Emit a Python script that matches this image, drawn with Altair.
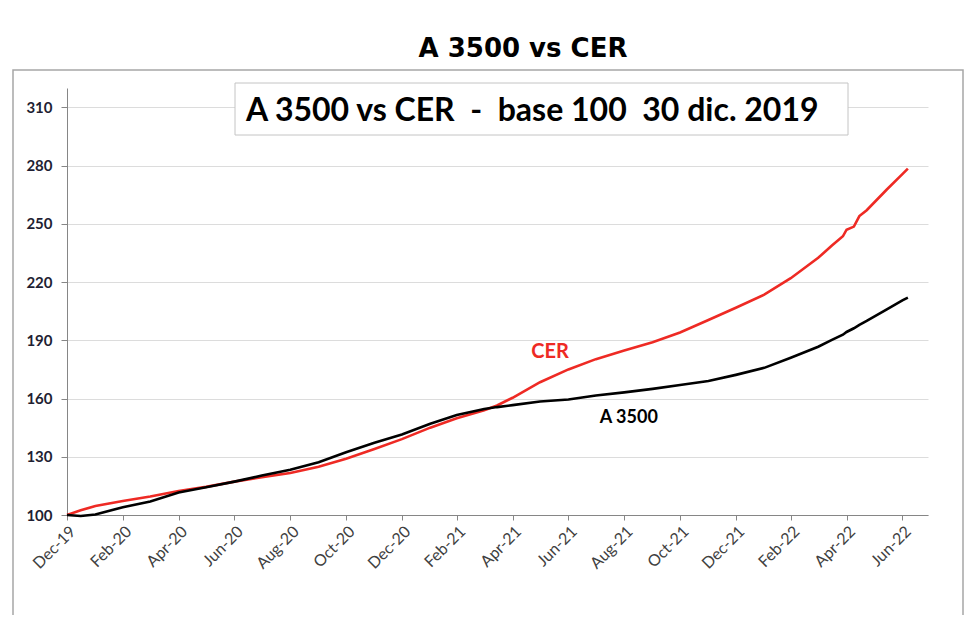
import altair as alt
import pandas as pd

# ---- data ----
dates = [
    "2019-12-30", "2020-01-14", "2020-01-30", "2020-02-29", "2020-03-30",
    "2020-04-30", "2020-05-30", "2020-06-30", "2020-07-30", "2020-08-30",
    "2020-09-30", "2020-10-30", "2020-11-30", "2020-12-30", "2021-01-30",
    "2021-02-28", "2021-03-30", "2021-04-13", "2021-04-30", "2021-05-30",
    "2021-06-30", "2021-07-30", "2021-08-30", "2021-09-30", "2021-10-30",
    "2021-11-30", "2021-12-30", "2022-01-30", "2022-02-28", "2022-03-30",
    "2022-04-14", "2022-04-26", "2022-04-30", "2022-05-08", "2022-05-14",
    "2022-05-22", "2022-06-13", "2022-06-30", "2022-07-06",
]
cer = [
    100.0, 102.4, 104.6, 107.2, 109.5,
    112.4, 114.5, 117.2, 119.5, 121.6,
    124.8, 129.0, 134.0, 139.1, 145.0,
    149.8, 154.0, 156.4, 160.4, 168.4,
    175.0, 180.3, 184.8, 189.0, 194.0,
    200.5, 206.8, 213.5, 222.0, 232.5,
    238.8, 243.6, 247.0, 248.6, 254.0,
    257.0, 267.7, 275.6, 278.5,
]
a3500 = [
    100.0, 99.5, 100.3, 104.0, 107.0,
    111.6, 114.3, 117.2, 120.3, 123.3,
    127.2, 132.3, 137.2, 141.5, 147.0,
    151.5, 154.6, 155.6, 156.6, 158.5,
    159.5, 161.6, 163.2, 165.0, 167.0,
    169.0, 172.2, 175.8, 181.0, 186.7,
    190.2, 192.9, 194.3, 196.2, 198.0,
    200.0, 206.0, 210.6, 212.0,
]
series_names = ["CER", "A 3500"]
series_colors = ["#EE2A24", "#000000"]

x_tick_dates = [
    "2019-12-30", "2020-02-29", "2020-04-30", "2020-06-30", "2020-08-30",
    "2020-10-30", "2020-12-30", "2021-02-28", "2021-04-30", "2021-06-30",
    "2021-08-30", "2021-10-30", "2021-12-30", "2022-02-28", "2022-04-30",
    "2022-06-30",
]
x_domain = ["2019-12-30", "2022-07-28"]
y_ticks = [100, 130, 160, 190, 220, 250, 280, 310]
y_domain = [100, 320]

title_text = "A 3500 vs CER"
box_text = "A 3500 vs CER\u00a0\u00a0-\u00a0\u00a0base 100\u00a0\u00a030 dic. 2019"
label_points = {
    "date": ["2021-06-10", "2021-09-04"],
    "value": [184.0, 150.0],
    "label": ["CER", "A 3500"],
}

FONT = "Lato"


def dt(s):
    return alt.DateTime(year=int(s[:4]), month=int(s[5:7]), date=int(s[8:10]), utc=True)


n = len(dates)
df = pd.DataFrame({
    "date": dates * 2,
    "value": cer + a3500,
    "serie": [series_names[0]] * n + [series_names[1]] * n,
})

x_enc = alt.X(
    "date:T",
    title=None,
    scale=alt.Scale(type="utc", domain=[dt(x_domain[0]), dt(x_domain[1])]),
    axis=alt.Axis(
        values=[dt(s) for s in x_tick_dates],
        labelExpr="utcFormat(datum.value, '%b-%y')",
        labelAngle=-45,
        labelFontSize=16,
        labelFont=FONT,
        labelColor="#404040",
        labelPadding=3,
        grid=False,
        tickSize=5,
        tickColor="#868686",
        domainColor="#868686",
        labelOverlap=False,
    ),
)
y_enc = alt.Y(
    "value:Q",
    title=None,
    scale=alt.Scale(domain=y_domain, nice=False, zero=False),
    axis=alt.Axis(
        values=y_ticks,
        labelFontSize=15,
        labelFont=FONT,
        labelFontWeight="bold",
        labelColor="#1F1F33",
        labelPadding=9,
        tickSize=6,
        tickColor="#868686",
        domainColor="#868686",
        grid=True,
        gridColor="#DCDCDC",
        gridWidth=1,
    ),
)

base = alt.Chart(df)
red_line = base.transform_filter(alt.datum.serie == series_names[0]).mark_line(
    strokeWidth=2.6, color=series_colors[0]
).encode(x=x_enc, y=y_enc)
black_line = base.transform_filter(alt.datum.serie == series_names[1]).mark_line(
    strokeWidth=2.6, color=series_colors[1]
).encode(x=x_enc, y=y_enc)

dummy = pd.DataFrame({"k": [0]})

frame = alt.Chart(dummy).mark_rect(
    fill="transparent", stroke="#A6A6A6", strokeWidth=1.5
).encode(x=alt.value(-54), x2=alt.value(896), y=alt.value(-18), y2=alt.value(532))

box = alt.Chart(dummy).mark_rect(
    fill="white", stroke="#C4C4C4", strokeWidth=1
).encode(x=alt.value(168), x2=alt.value(781), y=alt.value(-5), y2=alt.value(47))

box_label = alt.Chart(dummy).mark_text(
    align="left", baseline="alphabetic", fontSize=32, fontWeight="bold", font=FONT, color="#000000"
).encode(x=alt.value(179), y=alt.value(33), text=alt.value(box_text))

title = alt.Chart(dummy).mark_text(
    align="center", baseline="alphabetic", fontSize=26, fontWeight="bold",
    font="DejaVu Sans", color="#000000"
).encode(x=alt.value(456), y=alt.value(-31), text=alt.value(title_text))

lab_df = pd.DataFrame(label_points)
labels = alt.Chart(lab_df).mark_text(
    align="center", baseline="middle", fontWeight="bold", font=FONT
).encode(
    x=alt.X("date:T"),
    y=alt.Y("value:Q"),
    text="label:N",
    color=alt.Color("label:N", scale=alt.Scale(domain=series_names, range=series_colors), legend=None),
    size=alt.Size("label:N", scale=alt.Scale(domain=series_names, range=[20, 18]), legend=None),
)

chart = alt.layer(
    frame, box, box_label, title, red_line, black_line, labels
).properties(
    width=861,
    height=427,
    autosize=alt.AutoSizeParams(type="none"),
    padding={"left": 59, "top": 80, "right": 40, "bottom": 100},
    background="white",
).configure_view(strokeWidth=0)

chart.save("out.html", embed_options={"renderer": "svg", "actions": False})
